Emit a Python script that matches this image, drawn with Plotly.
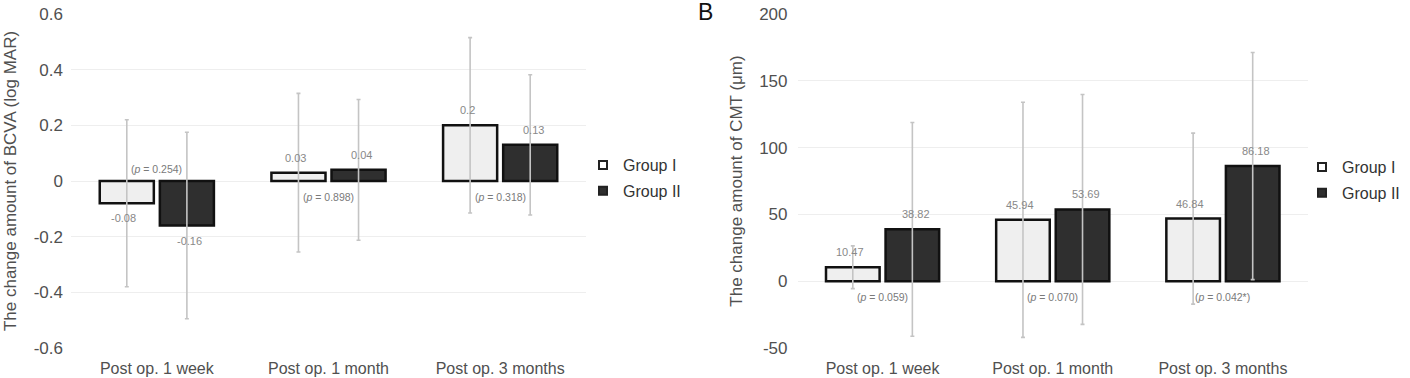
import plotly.graph_objects as go

# ---------------- data ----------------
categories = ["Post op. 1 week", "Post op. 1 month", "Post op. 3 months"]
groups = ["Group I", "Group II"]

bcva_g1 = [-0.08, 0.03, 0.20]
bcva_g2 = [-0.16, 0.04, 0.13]
bcva_g1_sd = [0.30, 0.285, 0.315]
bcva_g2_sd = [0.335, 0.253, 0.252]
bcva_p = ["0.254", "0.898", "0.318"]
bcva_p_y = [0.043, -0.057, -0.057]

cmt_g1 = [10.47, 45.94, 46.84]
cmt_g2 = [38.82, 53.69, 86.18]
cmt_g1_sd = [16.0, 88.0, 64.0]
cmt_g2_sd = [80.0, 86.0, 85.0]
cmt_p = ["0.059", "0.070", "0.042*"]
cmt_p_y = [-11.5, -11.5, -11.5]

bcva_ticks = [-0.6, -0.4, -0.2, 0, 0.2, 0.4, 0.6]
bcva_ticktext = ["-0.6", "-0.4", "-0.2", "0", "0.2", "0.4", "0.6"]
cmt_ticks = [-50, 0, 50, 100, 150, 200]
cmt_ticktext = ["-50", "0", "50", "100", "150", "200"]

# ---------------- style ----------------
FONT = "Liberation Sans, Arial, sans-serif"
C1 = "#efefef"
C2 = "#2f2f2f"
ERR = "#c4c4c4"
GRID = "#eeeeee"
AXTXT = "#505050"
VALTXT = "#888888"
W, H = 1410, 378

fig = go.Figure()


def add_panel(xa, ya, g1, g2, s1, s2, legend):
    for name, vals, sd, col in ((groups[0], g1, s1, C1), (groups[1], g2, s2, C2)):
        fig.add_trace(go.Bar(
            name=name, x=categories, y=vals,
            xaxis=xa, yaxis=ya, showlegend=False,
            marker=dict(color=col, line=dict(color="#111111", width=2.5)),
            error_y=dict(type="data", array=sd, visible=True,
                         color=ERR, thickness=1.6, width=2),
        ))
    # legend-only entries with small square symbols
    for name, col in ((groups[0], "white"), (groups[1], C2)):
        fig.add_trace(go.Scatter(
            name=name, x=[None], y=[None], mode="markers",
            xaxis=xa, yaxis=ya, legend=legend, legendgroup=legend + name,
            marker=dict(symbol="square", size=8, color=col,
                        line=dict(color="#222222", width=2)),
        ))


add_panel("x", "y", bcva_g1, bcva_g2, bcva_g1_sd, bcva_g2_sd, "legend")
add_panel("x2", "y2", cmt_g1, cmt_g2, cmt_g1_sd, cmt_g2_sd, "legend2")

annotations = []


def value_labels(xref, yref, g1, g2, fmt):
    for vals, dx in ((g1, -33), (g2, 33)):
        for c, v in zip(categories, vals):
            annotations.append(dict(
                x=c, y=v, xref=xref, yref=yref, text=fmt(v), showarrow=False,
                xshift=dx, yshift=15 if v >= 0 else -15, yanchor="middle",
                font=dict(family=FONT, size=11, color=VALTXT)))


def p_labels(xref, yref, pvals, ys):
    for c, p, y in zip(categories, pvals, ys):
        annotations.append(dict(
            x=c, y=y, xref=xref, yref=yref, showarrow=False, yanchor="middle",
            text="(<i>p</i> = %s)" % p,
            font=dict(family=FONT, size=10.5, color="#7a7a7a")))


value_labels("x", "y", bcva_g1, bcva_g2, lambda v: ("%g" % v))
value_labels("x2", "y2", cmt_g1, cmt_g2, lambda v: ("%.2f" % v))
p_labels("x", "y", bcva_p, bcva_p_y)
p_labels("x2", "y2", cmt_p, cmt_p_y)

annotations.append(dict(
    x=706 / W, y=1, xref="paper", yref="paper", text="B",
    showarrow=False, xanchor="center", yanchor="top", yshift=3,
    font=dict(family=FONT, size=23, color="#111111")))

ydom = [1 - 348 / H, 1 - 14 / H]

xcommon = dict(showline=False, zeroline=False, showgrid=False, ticks="",
               automargin=False, ticklabelstandoff=9,
               tickfont=dict(family=FONT, size=16, color=AXTXT))
ycommon = dict(showline=False, zeroline=False, showgrid=True,
               gridcolor=GRID, gridwidth=1, ticks="", automargin=False,
               tickfont=dict(family=FONT, size=17, color=AXTXT))

fig.update_layout(
    width=W, height=H,
    margin=dict(l=0, r=0, t=0, b=0, autoexpand=False),
    paper_bgcolor="white", plot_bgcolor="white",
    barmode="group", bargap=0.30, bargroupgap=0.1,
    font=dict(family=FONT, color=AXTXT),
    annotations=annotations,
    xaxis=dict(domain=[71 / W, 586 / W], anchor="y", **xcommon),
    yaxis=dict(domain=ydom, anchor="x", range=[-0.6, 0.6],
               tickvals=bcva_ticks, ticktext=bcva_ticktext,
               ticklabelstandoff=7,
               title=dict(text="The change amount of BCVA (log MAR)",
                          font=dict(family=FONT, size=17, color=AXTXT),
                          standoff=12),
               **ycommon),
    xaxis2=dict(domain=[797.5 / W, 1308 / W], anchor="y2", **xcommon),
    yaxis2=dict(domain=ydom, anchor="x2", range=[-50, 200],
                tickvals=cmt_ticks, ticktext=cmt_ticktext,
                ticklabelstandoff=9,
                title=dict(text="The change amount of CMT (\u03bcm)",
                           font=dict(family=FONT, size=17, color=AXTXT),
                           standoff=12),
                **ycommon),
    legend=dict(x=583 / W, y=1 - 148 / H, xanchor="left", yanchor="top",
                font=dict(family=FONT, size=16, color="#333333"),
                tracegroupgap=2, itemwidth=30, bgcolor="rgba(0,0,0,0)"),
    legend2=dict(x=1302 / W, y=1 - 150 / H, xanchor="left", yanchor="top",
                 font=dict(family=FONT, size=16, color="#333333"),
                 tracegroupgap=2, itemwidth=30, bgcolor="rgba(0,0,0,0)"),
)

fig.write_html("out.html")
